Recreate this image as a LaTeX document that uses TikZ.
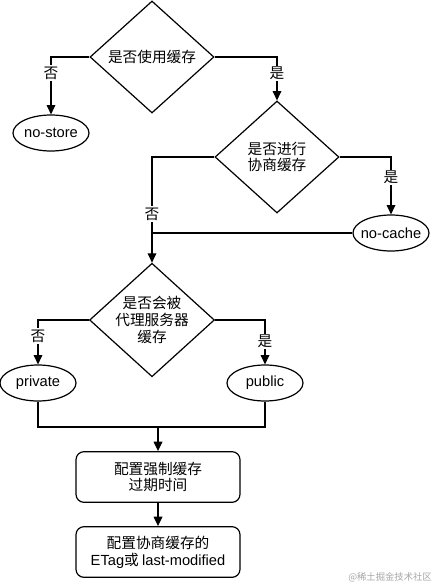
\documentclass[tikz,border=0pt]{standalone}
\usepackage{fontspec}
\setmainfont{Noto Sans CJK SC}
\newfontfamily\lat{Liberation Sans}
\usetikzlibrary{shapes.geometric,arrows.meta}

\begin{document}
\begin{tikzpicture}[x=0.75pt,y=-0.75pt,
  line width=0.9pt,
  font=\fontsize{11}{12.5}\selectfont,
  decision/.style={draw, diamond, aspect=1.1, inner sep=0pt, minimum width=93pt, minimum height=84pt, align=center},
  leaf/.style={draw, ellipse, inner xsep=-3pt, minimum width=57pt, minimum height=27pt, font=\lat\fontsize{11}{13}\selectfont},
  todo/.style={draw, rounded corners=6pt, minimum width=123pt, minimum height=38pt, align=center},
  flow/.style={-{Triangle[length=7pt,width=6.5pt]}},
  answer/.style={fill=white, inner sep=1pt}]
  \useasboundingbox (0,0) rectangle (432,582);

  \node[decision] (use)   at (152,57)  {是否使用缓存};
  \node[leaf]     (nostore) at (51,133) {no-store};
  \node[decision] (nego)  at (277,157) {是否进行\\协商缓存};
  \node[leaf]     (nocache) at (391,233) {no-cache};
  \node[decision] (proxy) at (152,320) {是否会被\\代理服务器\\缓存};
  \node[leaf]     (private) at (38,383) {private};
  \node[leaf]     (public)  at (265,383) {public};
  \coordinate     (merge) at (158,427);
  \node[todo]     (expire) at (158,477) {配置强制缓存\\过期时间};
  \node[todo]     (etag)   at (158,552) {配置协商缓存的\\{\lat ETag}或 {\lat last-modified}};
  \node[text=gray!70, font=\fontsize{7}{8}\selectfont] (mark) at (390,577) {@稀土掘金技术社区};

  \draw[flow] (use.west) -| node[answer, pos=0.64] {否} (nostore.north);
  \draw[flow] (use.east) -| node[answer, pos=0.69] {是} (nego.north);
  \draw[flow] (nego.east) -| node[answer, pos=0.68] {是} (nocache.north);
  \draw[flow] (nego.west) -| node[answer, pos=0.77] {否} (proxy.north);
  \draw (nocache.west) -- (nocache.west -| proxy.north);
  \draw[flow] (proxy.west) -| node[answer, pos=0.68] {否} (private.north);
  \draw[flow] (proxy.east) -| node[answer, pos=0.74] {是} (public.north);
  \draw (private.south) |- (merge) -| (public.south);
  \draw[flow] (merge) -- (expire.north);
  \draw[flow] (expire.south) -- (etag.north);
\end{tikzpicture}
\end{document}
